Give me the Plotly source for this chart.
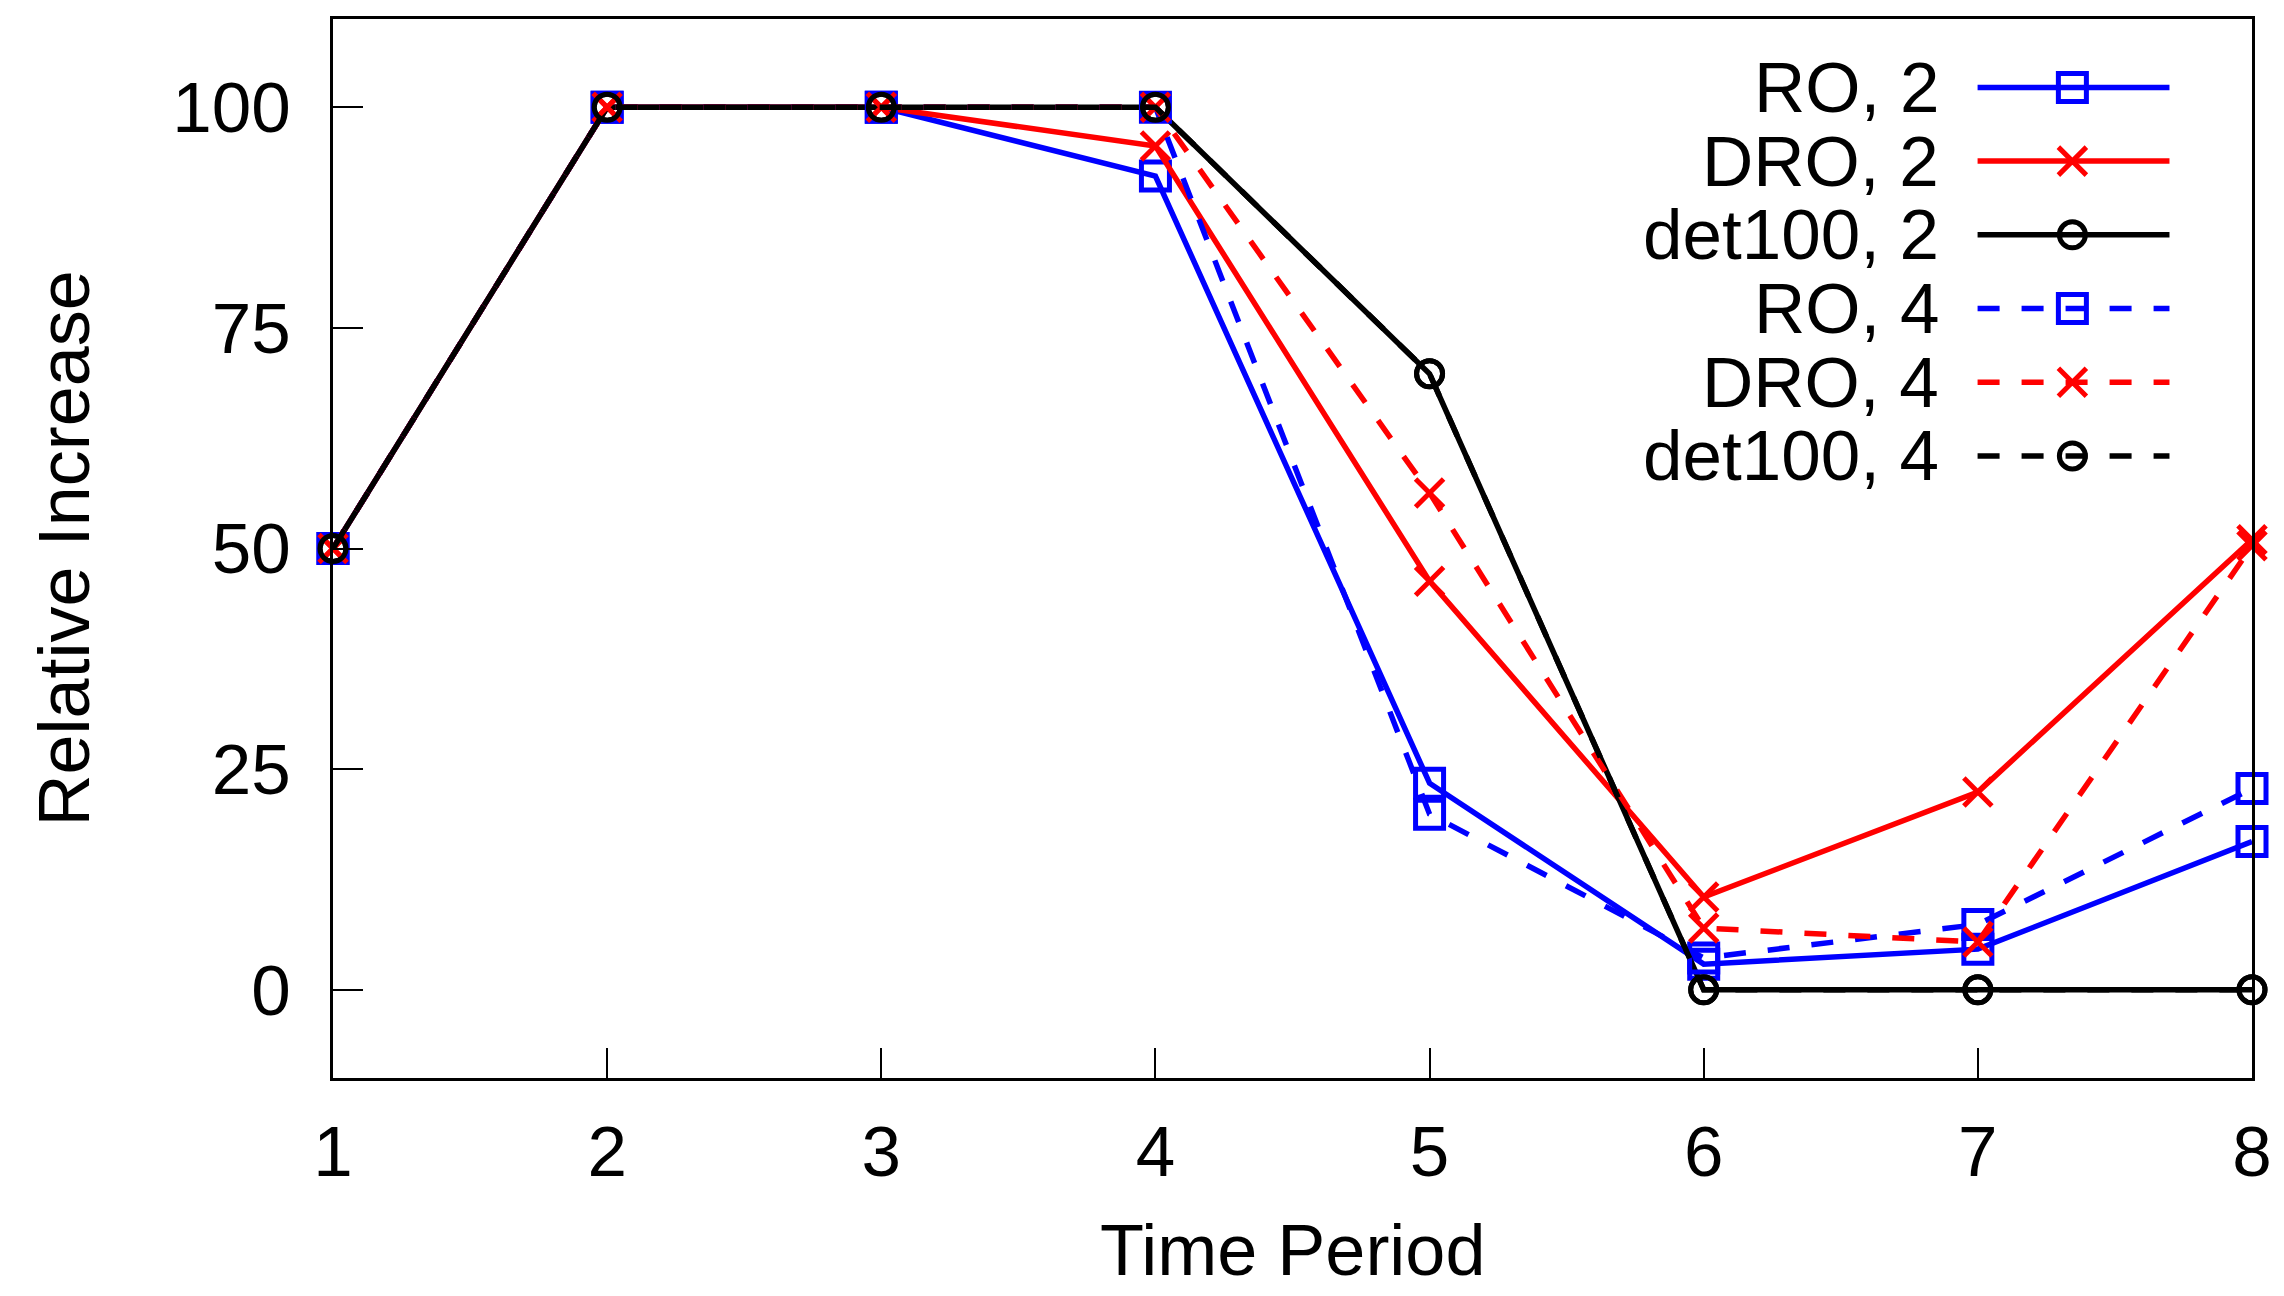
import plotly.graph_objects as go

# Time periods on the x axis
periods = [1, 2, 3, 4, 5, 6, 7, 8]

# Relative increase per period for each method / setting
ro_2 = [50, 100, 100, 92.2, 23.4, 2.9, 4.6, 16.8]
dro_2 = [50, 100, 100, 95.6, 46.3, 10.5, 22.4, 51.0]
det100_2 = [50, 100, 100, 100, 69.8, 0, 0, 0]
ro_4 = [50, 100, 100, 100, 19.9, 3.6, 7.4, 22.8]
dro_4 = [50, 100, 100, 100, 56.3, 7.0, 5.4, 50.3]
det100_4 = [50, 100, 100, 100, 69.8, 0, 0, 0]

series_names = ["RO, 2", "DRO, 2", "det100, 2", "RO, 4", "DRO, 4", "det100, 4"]
series_values = [ro_2, dro_2, det100_2, ro_4, dro_4, det100_4]

y_ticks = [0, 25, 50, 75, 100]

# Styling per series
colors = ["#0000FF", "#FF0000", "#000000", "#0000FF", "#FF0000", "#000000"]
symbols = ["square-open", "x-thin-open", "circle-open",
           "square-open", "x-thin-open", "circle-open"]
sizes = [28, 28, 26, 28, 28, 26]
dashes = ["solid", "solid", "solid", "22px,22px", "22px,22px", "22px,22px"]
LW = 5.5

FONT = "Liberation Sans, Arial, Helvetica, sans-serif"
W, H = 2284, 1296
ML, MR, MT, MB = 333, 28, 19, 218

fig = go.Figure()

for name, vals, c, s, sz, d in zip(series_names, series_values, colors, symbols, sizes, dashes):
    fig.add_trace(go.Scatter(
        x=periods, y=vals, name=name, mode="lines+markers",
        line=dict(color=c, width=LW, dash=d),
        marker=dict(symbol=s, size=sz, color=c, line=dict(color=c, width=5)),
        cliponaxis=False, showlegend=False,
    ))

# Key drawn gnuplot-style: label on the left, line sample with marker on the right
key_text_x = 0.838
key_line_x0, key_line_x1, key_mark_x = 0.857, 0.957, 0.9064
key_y0, key_dy = 0.9354, 0.0696
for i, (name, c, s, sz, d) in enumerate(zip(series_names, colors, symbols, sizes, dashes)):
    ky = key_y0 - i * key_dy
    fig.add_annotation(
        x=key_text_x, y=ky, xref="paper", yref="paper",
        text=name, showarrow=False, xanchor="right", yanchor="middle",
        font=dict(family=FONT, size=71, color="black"),
    )
    fig.add_trace(go.Scatter(
        x=[key_line_x0, key_line_x1], y=[ky, ky], mode="lines",
        line=dict(color=c, width=LW, dash=d),
        xaxis="x2", yaxis="y2", showlegend=False, hoverinfo="skip",
    ))
    fig.add_trace(go.Scatter(
        x=[key_mark_x], y=[ky], mode="markers",
        marker=dict(symbol=s, size=sz, color=c, line=dict(color=c, width=5)),
        xaxis="x2", yaxis="y2", showlegend=False, hoverinfo="skip",
        cliponaxis=False,
    ))

# Axis titles
fig.add_annotation(
    x=0, y=0.5, xref="paper", yref="paper", text="Relative Increase",
    textangle=-90, showarrow=False, xanchor="center", yanchor="middle",
    xshift=-270, font=dict(family=FONT, size=72, color="black"),
)
fig.add_annotation(
    x=0.5, y=0, xref="paper", yref="paper", text="Time Period",
    showarrow=False, xanchor="center", yanchor="middle",
    yshift=-172, font=dict(family=FONT, size=72, color="black"),
)

fig.update_layout(
    width=W, height=H,
    margin=dict(l=ML, r=MR, t=MT, b=MB, pad=0),
    plot_bgcolor="white", paper_bgcolor="white",
    font=dict(family=FONT, size=71, color="black"),
    showlegend=False,
    xaxis=dict(
        range=[1, 8], tickvals=periods, ticks="inside", ticklen=30,
        tickwidth=1.5, tickcolor="black", showgrid=False, zeroline=False,
        showline=True, linecolor="black", linewidth=3, mirror=True,
        ticklabelstandoff=10, tickfont=dict(family=FONT, size=71),
    ),
    yaxis=dict(
        range=[-10, 110], tickvals=y_ticks, ticks="inside", ticklen=30,
        tickwidth=1.5, tickcolor="black", showgrid=False, zeroline=False,
        showline=True, linecolor="black", linewidth=3, mirror=True,
        ticklabelstandoff=25, tickfont=dict(family=FONT, size=71),
    ),
    xaxis2=dict(overlaying="x", range=[0, 1], visible=False, fixedrange=True),
    yaxis2=dict(overlaying="y", range=[0, 1], visible=False, fixedrange=True),
)

fig.write_html("out.html")
